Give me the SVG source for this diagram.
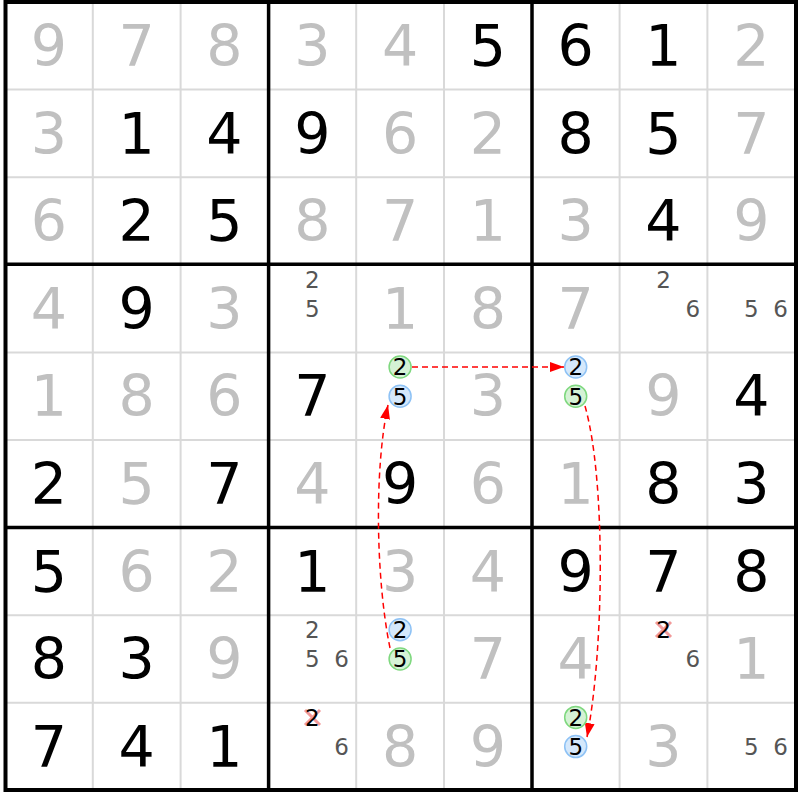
<svg xmlns="http://www.w3.org/2000/svg" width="800" height="800" viewBox="0 0 800 800">
<style>
.thin{stroke:#d9d9d9;stroke-width:2;fill:none}
.thick{stroke:#000;stroke-width:3.5;fill:none}
.outer{stroke:#000;stroke-width:4;fill:none}
.g{font-family:"DejaVu Sans",Verdana,sans-serif;font-size:57px;fill:#c0c0c0;text-anchor:middle}
.b{font-family:"DejaVu Sans",Verdana,sans-serif;font-size:57px;fill:#000;text-anchor:middle}
.c{font-family:"DejaVu Sans",Verdana,sans-serif;font-size:23px;fill:#555;text-anchor:middle}
.k{font-family:"DejaVu Sans",Verdana,sans-serif;font-size:23px;fill:#000;text-anchor:middle}
.cg{fill:#d5f2d5;stroke:#7fd87f;stroke-width:1.5}
.cb{fill:#d5e8fb;stroke:#8ec2f5;stroke-width:1.5}
.x{stroke:#f29a9a;stroke-width:3}
.arr{stroke:#ff0000;stroke-width:1.5;fill:none;stroke-dasharray:6,4}
</style>
<defs>
<marker id="ah" viewBox="0 0 14 10" refX="14" refY="5" markerWidth="14" markerHeight="10" markerUnits="userSpaceOnUse" orient="auto">
<path d="M0,0 L14,5 L0,10 z" fill="#ff0000"/>
</marker>
</defs>
<rect x="0" y="0" width="800" height="800" fill="#fff"/>
<g id="grid">
<path class="thin" d="M92.8 2V790M180.6 2V790M356.2 2V790M444 2V790M619.6 2V790M707.4 2V790M5 89.6H796M5 177.2H796M5 352.4H796M5 440H796M5 615.2H796M5 702.8H796"/>
<path class="thick" d="M268.6 2V790M532 2V790M5 264.2H796M5 527.4H796"/>
<rect class="outer" x="5.5" y="2" width="790.5" height="788"/>
</g>
<g id="givens">
<text class="g" x="48.9" y="66">9</text><text class="g" x="136.7" y="66">7</text><text class="g" x="224.5" y="66">8</text><text class="g" x="312.3" y="66">3</text><text class="g" x="400.1" y="66">4</text><text class="b" x="487.9" y="66">5</text><text class="b" x="575.7" y="66">6</text><text class="b" x="663.5" y="66">1</text><text class="g" x="751.3" y="66">2</text>
<text class="g" x="48.9" y="153.6">3</text><text class="b" x="136.7" y="153.6">1</text><text class="b" x="224.5" y="153.6">4</text><text class="b" x="312.3" y="153.6">9</text><text class="g" x="400.1" y="153.6">6</text><text class="g" x="487.9" y="153.6">2</text><text class="b" x="575.7" y="153.6">8</text><text class="b" x="663.5" y="153.6">5</text><text class="g" x="751.3" y="153.6">7</text>
<text class="g" x="48.9" y="241.2">6</text><text class="b" x="136.7" y="241.2">2</text><text class="b" x="224.5" y="241.2">5</text><text class="g" x="312.3" y="241.2">8</text><text class="g" x="400.1" y="241.2">7</text><text class="g" x="487.9" y="241.2">1</text><text class="g" x="575.7" y="241.2">3</text><text class="b" x="663.5" y="241.2">4</text><text class="g" x="751.3" y="241.2">9</text>
<text class="g" x="48.9" y="328.8">4</text><text class="b" x="136.7" y="328.8">9</text><text class="g" x="224.5" y="328.8">3</text><text class="g" x="400.1" y="328.8">1</text><text class="g" x="487.9" y="328.8">8</text><text class="g" x="575.7" y="328.8">7</text>
<text class="g" x="48.9" y="416.4">1</text><text class="g" x="136.7" y="416.4">8</text><text class="g" x="224.5" y="416.4">6</text><text class="b" x="312.3" y="416.4">7</text><text class="g" x="487.9" y="416.4">3</text><text class="g" x="663.5" y="416.4">9</text><text class="b" x="751.3" y="416.4">4</text>
<text class="b" x="48.9" y="504">2</text><text class="g" x="136.7" y="504">5</text><text class="b" x="224.5" y="504">7</text><text class="g" x="312.3" y="504">4</text><text class="b" x="400.1" y="504">9</text><text class="g" x="487.9" y="504">6</text><text class="g" x="575.7" y="504">1</text><text class="b" x="663.5" y="504">8</text><text class="b" x="751.3" y="504">3</text>
<text class="b" x="48.9" y="591.6">5</text><text class="g" x="136.7" y="591.6">6</text><text class="g" x="224.5" y="591.6">2</text><text class="b" x="312.3" y="591.6">1</text><text class="g" x="400.1" y="591.6">3</text><text class="g" x="487.9" y="591.6">4</text><text class="b" x="575.7" y="591.6">9</text><text class="b" x="663.5" y="591.6">7</text><text class="b" x="751.3" y="591.6">8</text>
<text class="b" x="48.9" y="679.2">8</text><text class="b" x="136.7" y="679.2">3</text><text class="g" x="224.5" y="679.2">9</text><text class="g" x="487.9" y="679.2">7</text><text class="g" x="575.7" y="679.2">4</text><text class="g" x="751.3" y="679.2">1</text>
<text class="b" x="48.9" y="766.8">7</text><text class="b" x="136.7" y="766.8">4</text><text class="b" x="224.5" y="766.8">1</text><text class="g" x="400.1" y="766.8">8</text><text class="g" x="487.9" y="766.8">9</text><text class="g" x="663.5" y="766.8">3</text>
</g>
<g id="candidates">
<text class="c" x="312.3" y="287.8">2</text><text class="c" x="312.3" y="317">5</text>
<text class="c" x="663.5" y="287.8">2</text><text class="c" x="692.8" y="317">6</text>
<text class="c" x="751.3" y="317">5</text><text class="c" x="780.6" y="317">6</text>
<text class="c" x="312.3" y="638.2">2</text><text class="c" x="312.3" y="667.4">5</text><text class="c" x="341.6" y="667.4">6</text>
<path class="x" d="M305 710L320 725M305 725L320 710"/><text class="k" x="312.3" y="725.8">2</text><text class="c" x="341.6" y="755">6</text>
<path class="x" d="M656 622L671 637M656 637L671 622"/><text class="k" x="663.5" y="638.2">2</text><text class="c" x="692.8" y="667.4">6</text>
<text class="c" x="751.3" y="755">5</text><text class="c" x="780.6" y="755">6</text>
</g>
<g id="links">
<path class="arr" d="M412 367H564" marker-end="url(#ah)"/>
<path class="arr" d="M585 406C606 480,604 650,587 737" marker-end="url(#ah)"/>
<path class="arr" d="M390 648C376 580,374 470,388 405" marker-end="url(#ah)"/>
</g>
<g id="circled">
<circle class="cg" cx="400.1" cy="367" r="11"/><text class="k" x="400.1" y="375.4">2</text>
<circle class="cb" cx="400.1" cy="396.2" r="11"/><text class="k" x="400.1" y="404.6">5</text>
<circle class="cb" cx="575.7" cy="367" r="11"/><text class="k" x="575.7" y="375.4">2</text>
<circle class="cg" cx="575.7" cy="396.2" r="11"/><text class="k" x="575.7" y="404.6">5</text>
<circle class="cb" cx="400.1" cy="629.8" r="11"/><text class="k" x="400.1" y="638.2">2</text>
<circle class="cg" cx="400.1" cy="659" r="11"/><text class="k" x="400.1" y="667.4">5</text>
<circle class="cg" cx="575.7" cy="717.4" r="11"/><text class="k" x="575.7" y="725.8">2</text>
<circle class="cb" cx="575.7" cy="746.6" r="11"/><text class="k" x="575.7" y="755">5</text>
</g>
</svg>
